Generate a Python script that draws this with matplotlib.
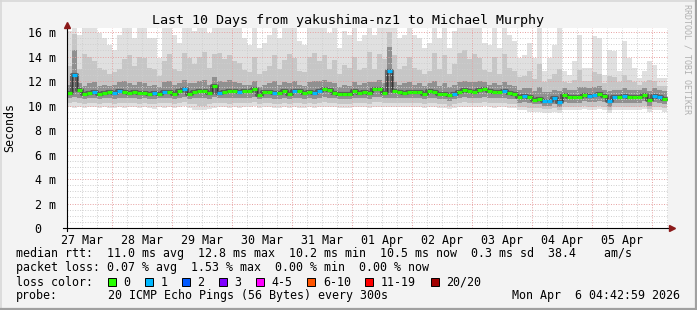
import numpy as np
import matplotlib
matplotlib.use("Agg")
import matplotlib.pyplot as plt
import matplotlib.dates as mdates
from matplotlib.lines import Line2D
from matplotlib.patches import Rectangle

# ---------------- data ----------------
title = "Last 10 Days from yakushima-nz1 to Michael Murphy"
start_time = "2026-03-27T06:00"
step_hours = 2

median_ms = [
    11.04, 12.51, 11.23, 10.96, 11.04, 11.12, 10.96, 11.04, 11.09, 11.04,
    11.17, 11.09, 11.04, 11.09, 11.04, 11.04, 10.96, 11.01, 10.98, 11.12,
    11.12, 10.96, 11.15, 11.37, 10.98, 11.07, 11.20, 11.17, 11.01, 11.56,
    11.04, 11.12, 11.17, 11.17, 11.09, 11.15, 11.15, 11.31, 10.87, 11.12,
    11.07, 11.01, 11.01, 11.15, 10.96, 11.15, 11.15, 11.01, 11.12, 11.01,
    11.20, 11.31, 11.23, 11.04, 10.93, 10.98, 10.96, 11.15, 11.04, 11.12,
    11.01, 11.34, 11.31, 11.04, 12.78, 11.15, 11.07, 11.04, 11.07, 11.09,
    11.09, 10.98, 11.15, 11.07, 10.93, 10.96, 10.85, 10.98, 11.12, 11.26,
    11.15, 11.07, 11.23, 11.31, 11.15, 11.07, 11.12, 11.15, 11.04, 10.93,
    10.66, 10.74, 10.68, 10.49, 10.55, 10.41, 10.38, 10.60, 10.28, 10.82,
    10.71, 10.68, 10.68, 10.90, 10.79, 10.85, 10.96, 10.77, 10.33, 10.66,
    10.71, 10.74, 10.68, 10.66, 10.71, 10.87, 10.44, 10.79, 10.71, 10.55,
]

lost_pings = [
    0, 1, 0, 0, 0, 1, 0, 0, 0, 1, 1, 0, 0, 0, 0, 0, 0, 1, 0, 1,
    0, 0, 0, 1, 0, 0, 0, 0, 0, 0, 1, 0, 0, 0, 1, 0, 0, 0, 0, 0,
    0, 1, 0, 0, 0, 1, 0, 0, 0, 1, 1, 0, 0, 0, 0, 0, 0, 0, 0, 0,
    0, 0, 0, 0, 1, 0, 0, 0, 0, 0, 0, 0, 0, 0, 0, 0, 0, 1, 0, 0,
    0, 0, 0, 0, 0, 0, 0, 1, 0, 0, 0, 1, 0, 0, 0, 1, 1, 1, 1, 0,
    0, 0, 0, 0, 1, 1, 0, 0, 1, 1, 0, 1, 0, 0, 0, 0, 0, 1, 1, 0,
]

ping_max = [
    16.05, 18.0, 15.78, 18.0, 18.0, 18.0, 15.92, 15.51, 14.96, 14.55,
    15.78, 18.0, 18.0, 15.51, 18.0, 18.0, 15.51, 15.51, 13.87, 18.0,
    18.0, 15.78, 15.10, 18.0, 18.0, 16.05, 18.0, 18.0, 15.92, 18.0,
    18.0, 18.0, 18.0, 18.0, 18.0, 15.51, 14.96, 18.0, 14.69, 15.10,
    15.78, 18.0, 15.51, 18.0, 18.0, 18.0, 15.24, 14.96, 18.0, 18.0,
    18.0, 18.0, 15.92, 18.0, 14.69, 16.05, 15.78, 18.0, 15.24, 15.78,
    18.0, 15.78, 18.0, 18.0, 18.0, 18.0, 15.51, 15.78, 18.0, 15.78,
    15.51, 14.69, 15.10, 18.0, 15.51, 18.0, 14.69, 16.05, 18.0, 18.0,
    18.0, 18.0, 18.0, 15.10, 14.96, 18.0, 14.69, 18.0, 15.78, 15.24,
    13.87, 14.15, 15.10, 13.87, 18.0, 12.78, 13.87, 14.96, 18.0, 12.78,
    12.51, 13.60, 15.78, 13.06, 13.06, 15.64, 15.51, 12.51, 14.55, 14.42,
    12.78, 15.24, 13.87, 13.06, 12.24, 12.78, 13.60, 13.33, 12.24, 12.24,
]

ping_p90 = [
    13.2, 15.8, 13.0, 14.2, 14.0, 13.6, 13.1, 12.9, 12.6, 12.7,
    13.0, 13.8, 14.1, 13.2, 14.0, 13.9, 13.1, 13.0, 12.4, 13.6,
    14.2, 13.0, 12.8, 14.3, 13.9, 13.4, 14.0, 14.4, 13.1, 14.2,
    14.3, 13.8, 14.1, 13.6, 13.5, 12.9, 12.7, 14.0, 12.6, 12.8,
    13.2, 14.1, 13.0, 13.7, 14.2, 13.9, 12.8, 12.7, 14.0, 14.3,
    13.6, 14.1, 13.0, 13.7, 12.6, 13.3, 13.1, 14.0, 12.9, 13.1,
    14.4, 13.0, 14.2, 13.8, 16.0, 14.1, 13.0, 13.2, 14.0, 13.1,
    12.9, 12.6, 12.8, 14.3, 13.0, 14.1, 12.6, 13.4, 14.3, 14.5,
    13.8, 14.2, 13.9, 12.9, 12.7, 14.0, 12.6, 14.2, 13.1, 12.8,
    12.3, 12.4, 12.8, 12.2, 13.4, 11.9, 12.2, 12.6, 13.0, 11.9,
    11.8, 12.1, 12.9, 12.0, 12.0, 12.7, 12.6, 11.8, 12.4, 12.3,
    11.9, 12.5, 12.1, 11.9, 11.7, 11.9, 12.1, 12.0, 11.6, 11.6,
]

ping_p75 = [
    11.7, 14.5, 11.8, 11.6, 11.8, 11.9, 11.6, 11.7, 11.6, 11.7,
    11.9, 12.0, 11.8, 11.7, 11.9, 11.8, 11.6, 11.7, 11.5, 11.9,
    12.0, 11.7, 11.8, 12.1, 11.8, 11.8, 12.0, 12.1, 11.7, 12.3,
    12.0, 11.9, 12.1, 11.9, 11.8, 11.7, 11.7, 12.0, 11.5, 11.7,
    11.8, 12.0, 11.7, 11.9, 11.8, 12.0, 11.7, 11.6, 11.9, 12.0,
    12.0, 12.1, 11.9, 11.8, 11.5, 11.7, 11.6, 11.9, 11.7, 11.8,
    11.9, 11.9, 12.1, 11.8, 14.8, 11.9, 11.7, 11.8, 11.9, 11.7,
    11.8, 11.6, 11.8, 12.0, 11.6, 11.8, 11.5, 11.7, 11.9, 12.0,
    11.9, 11.9, 12.0, 11.9, 11.7, 11.8, 11.7, 11.9, 11.7, 11.6,
    11.3, 11.4, 11.4, 11.2, 11.5, 11.1, 11.1, 11.3, 11.2, 11.4,
    11.3, 11.3, 11.5, 11.5, 11.4, 11.5, 11.6, 11.3, 11.2, 11.3,
    11.3, 11.4, 11.3, 11.3, 11.3, 11.4, 11.2, 11.4, 11.3, 11.2,
]

ping_p25 = [
    10.6, 10.7, 10.6, 10.5, 10.6, 10.6, 10.5, 10.6, 10.6, 10.5,
    10.6, 10.6, 10.6, 10.6, 10.5, 10.6, 10.5, 10.5, 10.6, 10.6,
    10.6, 10.5, 10.6, 10.7, 10.5, 10.6, 10.6, 10.6, 10.5, 10.7,
    10.6, 10.6, 10.6, 10.6, 10.6, 10.6, 10.6, 10.7, 10.5, 10.6,
    10.6, 10.5, 10.5, 10.6, 10.5, 10.6, 10.6, 10.5, 10.6, 10.5,
    10.6, 10.7, 10.6, 10.6, 10.5, 10.5, 10.5, 10.6, 10.6, 10.6,
    10.5, 10.7, 10.7, 10.6, 10.6, 10.6, 10.6, 10.6, 10.6, 10.6,
    10.6, 10.5, 10.6, 10.6, 10.5, 10.5, 10.4, 10.5, 10.6, 10.7,
    10.6, 10.6, 10.6, 10.7, 10.6, 10.6, 10.6, 10.6, 10.5, 10.5,
    10.2, 10.3, 10.2, 10.1, 10.1, 10.0, 10.0, 10.1, 9.9, 10.3,
    10.2, 10.2, 10.2, 10.4, 10.3, 10.3, 10.4, 10.3, 9.9, 10.2,
    10.2, 10.2, 10.2, 10.2, 10.2, 10.4, 10.0, 10.3, 10.2, 10.1,
]

ping_p10 = [
    10.2, 10.3, 10.2, 10.1, 10.2, 10.2, 10.1, 10.2, 10.2, 10.1,
    10.2, 10.2, 10.2, 10.2, 10.1, 10.2, 10.1, 10.1, 10.2, 10.2,
    10.2, 10.1, 10.2, 10.3, 10.1, 10.1, 10.0, 10.0, 10.1, 10.2,
    10.2, 10.2, 10.1, 10.2, 10.2, 10.2, 10.2, 10.3, 10.1, 10.2,
    10.2, 10.1, 10.1, 10.2, 10.1, 10.2, 10.2, 10.1, 10.2, 10.1,
    10.2, 10.3, 10.2, 10.2, 10.1, 10.1, 10.1, 10.2, 10.2, 10.2,
    10.1, 10.3, 10.3, 10.2, 10.2, 10.2, 10.2, 10.2, 10.2, 10.2,
    10.2, 10.1, 10.2, 10.2, 10.1, 10.1, 10.0, 10.1, 10.2, 10.3,
    10.2, 10.2, 10.2, 10.3, 10.2, 10.2, 10.2, 10.2, 10.1, 10.1,
    9.9, 9.9, 9.8, 9.8, 9.8, 9.7, 9.7, 9.8, 9.6, 9.9,
    9.9, 9.9, 9.9, 10.0, 9.9, 9.9, 10.0, 9.9, 9.6, 9.9,
    9.9, 9.9, 9.9, 9.9, 9.9, 10.0, 9.7, 9.9, 9.9, 9.8,
]

ping_min = [
    9.9, 9.8, 9.9, 9.8, 9.9, 9.9, 9.8, 9.9, 9.8, 9.8,
    9.9, 9.8, 9.9, 9.9, 9.8, 9.9, 9.8, 9.7, 9.9, 9.8,
    9.9, 9.8, 9.9, 10.0, 9.8, 9.6, 9.6, 9.6, 9.7, 9.8,
    9.9, 9.9, 9.8, 9.9, 9.8, 9.9, 9.9, 10.0, 9.8, 9.9,
    9.9, 9.8, 9.8, 9.9, 9.8, 9.9, 9.8, 9.8, 9.9, 9.8,
    9.9, 9.9, 9.9, 9.9, 9.8, 9.8, 9.8, 9.9, 9.9, 9.9,
    9.8, 9.9, 9.9, 9.9, 9.9, 9.9, 9.9, 9.9, 9.9, 9.9,
    9.9, 9.8, 9.9, 9.9, 9.8, 9.8, 9.7, 9.8, 9.9, 9.9,
    9.9, 9.9, 9.9, 10.0, 9.9, 9.8, 9.9, 9.9, 9.8, 9.8,
    9.6, 9.6, 9.5, 9.5, 9.5, 9.4, 9.4, 9.5, 9.4, 9.6,
    9.6, 9.6, 9.6, 9.7, 9.6, 9.6, 9.7, 9.6, 9.4, 9.6,
    9.6, 9.6, 9.6, 9.6, 9.6, 9.7, 9.5, 9.6, 9.6, 9.5,
]

ytick_values = [0, 2, 4, 6, 8, 10, 12, 14, 16]
ytick_labels = ["0  ", "2 m", "4 m", "6 m", "8 m", "10 m", "12 m", "14 m", "16 m"]
y_top = 16.33

loss_labels = ["0", "1", "2", "3", "4-5", "6-10", "11-19", "20/20"]
loss_colors = ["#26ff00", "#00b8ff", "#0059ff", "#7e00ff", "#ff00ff", "#ff5500", "#ff0000", "#a10000"]

legend_line1 = "median rtt:  11.0 ms avg  12.8 ms max  10.2 ms min  10.5 ms now  0.3 ms sd  38.4    am/s"
legend_line2 = "packet loss: 0.07 % avg  1.53 % max  0.00 % min  0.00 % now"
legend_line3 = "loss color:"
probe_label = "probe:"
probe_text = "20 ICMP Echo Pings (56 Bytes) every 300s"
stamp_text = "Mon Apr  6 04:42:59 2026"
watermark = "RRDTOOL / TOBI OETIKER"

# ---------------- figure ----------------
W, H = 697, 310
MONO = "DejaVu Sans Mono"
plt.rcParams["font.family"] = MONO

fig = plt.figure(figsize=(W / 100, H / 100), dpi=100, facecolor="#f3f3f3")
px_l, px_r, px_b, px_t = 66.7, 668.0, 228.0, 28.0
ax = fig.add_axes([px_l / W, 1 - px_b / H, (px_r - px_l) / W, (px_b - px_t) / H])
ax.set_facecolor("white")
for s in ax.spines.values():
    s.set_visible(False)

n = len(median_ms)
t0 = np.datetime64(start_time)
edges = t0 + np.timedelta64(step_hours, "h") * np.arange(n + 1)
xe = mdates.date2num(edges)
x_end = xe[0] + 240.5 / 24.0
ax.set_xlim(xe[0], x_end)
ax.set_ylim(0, y_top)
d_start, d_end = mdates.num2date(xe[0]), mdates.num2date(x_end)

def ext(a):
    a = np.asarray(a, float)
    return np.append(a, a[-1])

bands = [
    (ping_min, ping_max, "#e0e0e0"),
    (ping_p10, ping_p90, "#c6c6c6"),
    (ping_p25, ping_p75, "#909090"),
]
for lo, hi, col in bands:
    ax.fill_between(xe, ext(lo), ext(hi), step="post", color=col, lw=0, zorder=1)

# dark core around median
ax.step(xe, ext(median_ms), where="post", color="#4a4a4a", lw=3.0, zorder=2, alpha=0.75)

# grid (drawn over smoke)
minor_col = "#cfcfcf"
major_col = "#e6a0a0"
dot = (0, (1, 1.6))
for v in np.arange(0.5, y_top, 0.5):
    if abs(v / 2 - round(v / 2)) > 1e-6:
        ax.axhline(v, color=minor_col, lw=0.7, ls=dot, zorder=3)
for v in ytick_values[1:]:
    ax.axhline(v, color=major_col, lw=0.7, ls=dot, zorder=3)
minor_loc = mdates.HourLocator(byhour=[6, 12, 18])
for v in minor_loc.tick_values(d_start, d_end):
    if xe[0] < v < x_end:
        ax.axvline(v, color=minor_col, lw=0.7, ls=dot, zorder=3)
for v in mdates.DayLocator().tick_values(d_start, d_end):
    if xe[0] < v < x_end:
        ax.axvline(v, color=major_col, lw=0.7, ls=dot, zorder=3)

# median line coloured by loss
ax.step(xe, ext(median_ms), where="post", color="#303030", lw=0.6, zorder=4)
seg_cols = [loss_colors[min(k, 7)] for k in lost_pings]
ax.hlines(median_ms, xe[:-1], xe[1:], colors=seg_cols, lw=2.3, zorder=5)

# ticks
ax.set_yticks(ytick_values)
ax.set_yticklabels(ytick_labels, fontsize=8.4, family=MONO)
ax.xaxis.set_major_locator(mdates.HourLocator(byhour=[12]))
ax.xaxis.set_major_formatter(mdates.DateFormatter("%d %b"))
ax.tick_params(axis="both", length=0)
ax.tick_params(axis="y", pad=7.5)
ax.tick_params(axis="x", pad=4)
for lab in ax.get_xticklabels():
    lab.set_fontsize(8.4)
    lab.set_family(MONO)

# axes lines with arrows
def fx(px):
    return px / W

def fy(py):
    return 1 - py / H

arrow_col = "#8b1a1a"
fig.add_artist(Line2D([fx(px_l), fx(px_l)], [fy(231), fy(25)], color="black", lw=0.8))
fig.add_artist(Line2D([fx(63), fx(671)], [fy(px_b), fy(px_b)], color="black", lw=0.8))
fig.add_artist(Line2D([fx(px_l)], [fy(24.5)], marker="^", ms=5, color=arrow_col, mec=arrow_col, lw=0))
fig.add_artist(Line2D([fx(671.5)], [fy(px_b)], marker=">", ms=5, color=arrow_col, mec=arrow_col, lw=0))

# title & labels
fig.text(fx(347.5), fy(24), title, fontsize=9.6, family=MONO, ha="center", va="baseline")
fig.text(fx(10), fy(128), "Seconds", fontsize=8.4, family=MONO, rotation=90, ha="center", va="center")
fig.text(fx(687.5), fy(4), watermark, fontsize=6.0, family=MONO, rotation=270, ha="center", va="top", color="#b0b0b0")

# legend
fs = 8.4
fig.text(fx(16), fy(257.5), legend_line1, fontsize=fs, family=MONO, va="baseline")
fig.text(fx(16), fy(271.5), legend_line2, fontsize=fs, family=MONO, va="baseline")
fig.text(fx(16), fy(285.5), legend_line3, fontsize=fs, family=MONO, va="baseline")
sx = 108.0
for lab, col in zip(loss_labels, loss_colors):
    fig.add_artist(Rectangle((fx(sx), fy(286)), 8 / W, 8 / H, transform=fig.transFigure,
                             facecolor=col, edgecolor="black", lw=0.7))
    fig.text(fx(sx + 15.5), fy(285.5), lab, fontsize=fs, family=MONO, va="baseline")
    sx += 30 + 7.04 * len(lab)
fig.text(fx(16), fy(299.5), probe_label, fontsize=fs, family=MONO, va="baseline")
fig.text(fx(107.6), fy(299.5), probe_text, fontsize=fs, family=MONO, va="baseline")
fig.text(fx(680), fy(299.5), stamp_text, fontsize=fs, family=MONO, va="baseline", ha="right")

# 3D frame
fig.add_artist(Line2D([0, 1], [fy(0.5), fy(0.5)], color="#d8d8d8", lw=1.2))
fig.add_artist(Line2D([fx(0.5), fx(0.5)], [0, 1], color="#d8d8d8", lw=1.2))
fig.add_artist(Line2D([0, 1], [fy(309), fy(309)], color="#a0a0a0", lw=1.6))
fig.add_artist(Line2D([fx(696), fx(696)], [0, 1], color="#a0a0a0", lw=1.6))

fig.savefig("out.png", dpi=100, facecolor=fig.get_facecolor())
